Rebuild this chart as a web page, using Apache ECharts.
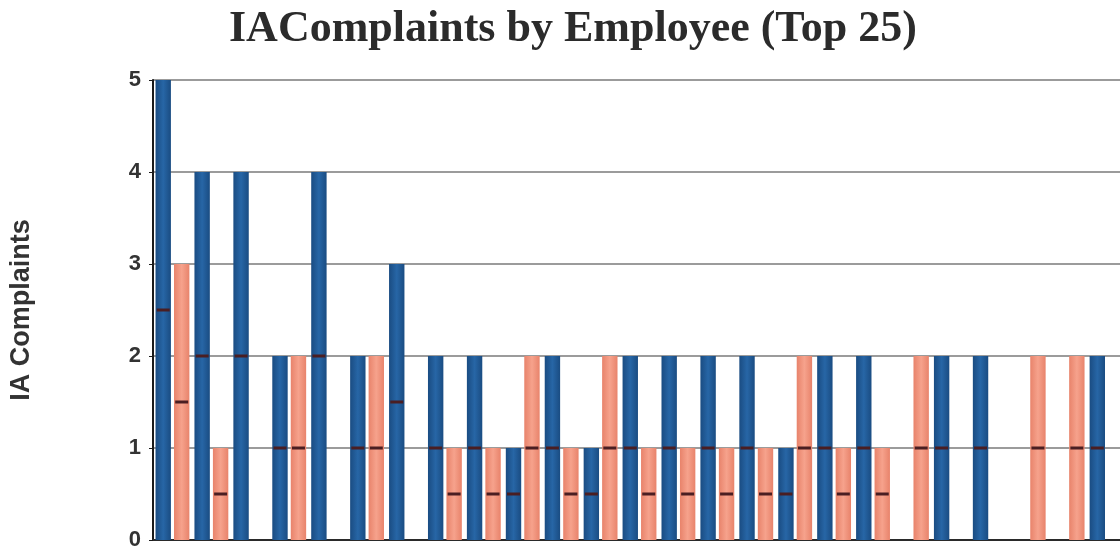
<!DOCTYPE html>
<html>
<head>
<meta charset="utf-8">
<title>IAComplaints by Employee (Top 25)</title>
<script src="https://cdn.jsdelivr.net/npm/echarts@6.0.0/dist/echarts.min.js"></script>
<style>
  html, body { margin: 0; padding: 0; background: #fff; overflow: hidden; }
  /* the original plot runs a few pixels past the right edge of the picture */
  #chart { width: 1130px; height: 551px; }
</style>
</head>
<body>
<div id="chart"></div>
<script>
// 25 employees, ranked by total complaints (names are not shown in the picture)
const employees = Array.from({ length: 25 }, (_, i) => 'Employee ' + (i + 1))
// blue bars
const blueValues = [5, 4, 4, 2, 4, 2, 3, 2, 2, 1, 2, 1, 2, 2, 2, 2, 1, 2, 2, 0, 2, 2, 0, 0, 2]
// salmon bars
const salmonValues = [3, 1, 0, 2, 0, 2, 0, 1, 1, 2, 1, 2, 1, 1, 1, 1, 2, 1, 1, 2, 0, 0, 2, 2, 0]
const yTicks = [0, 1, 2, 3, 4, 5]

// cylinder-ish shading: darker edges, lighter middle
function shade(edge, mid) {
  return new echarts.graphic.LinearGradient(0, 0, 1, 0, [
    { offset: 0, color: edge },
    { offset: 0.5, color: mid },
    { offset: 1, color: edge },
  ])
}

// small dark marker drawn in the middle of each non-zero bar
const midMark = {
  show: true,
  position: 'inside',
  formatter: (p) => (p.value > 0 ? '{m| }' : ''),
  rich: { m: { width: 13, height: 3, fontSize: 1, backgroundColor: '#4a1e22' } },
}

const chart = echarts.init(document.getElementById('chart'), null, { renderer: 'canvas' })
chart.setOption({
  backgroundColor: '#fff',
  animation: false,
  title: {
    text: 'IAComplaints by Employee (Top 25)',
    left: 224,
    top: 3,
    textStyle: { fontFamily: 'Liberation Serif', fontWeight: 'bold', fontSize: 44, color: '#2b2b2b' },
  },
  grid: { left: 152, top: 80, bottom: 10, right: 4, containLabel: false },
  xAxis: {
    type: 'category',
    data: employees,
    axisLine: { lineStyle: { color: '#2a2a2a', width: 2 } },
    axisTick: { show: false },
    axisLabel: { show: false },
  },
  yAxis: {
    type: 'value',
    min: yTicks[0],
    max: yTicks[yTicks.length - 1],
    interval: 1,
    name: 'IA Complaints',
    nameLocation: 'middle',
    nameGap: 118,
    nameTextStyle: { fontFamily: 'Liberation Sans', fontWeight: 'bold', fontSize: 27, color: '#333' },
    axisLine: { show: true, lineStyle: { color: '#1a1a1a', width: 2 } },
    axisTick: { show: true, inside: false, length: 4, lineStyle: { color: '#1a1a1a' } },
    axisLabel: { margin: 12, fontFamily: 'Liberation Sans', fontWeight: 'bold', fontSize: 22, color: '#333' },
    splitLine: { lineStyle: { color: '#7a7a7a', width: 1.5 } },
  },
  series: [
    {
      name: 'Blue',
      type: 'bar',
      data: blueValues,
      barGap: '20%',
      barCategoryGap: '13%',
      itemStyle: { color: shade('#1a4c82', '#2766a6') },
      label: midMark,
    },
    {
      name: 'Salmon',
      type: 'bar',
      data: salmonValues,
      itemStyle: { color: shade('#e8836b', '#f6a28c') },
      label: midMark,
    },
  ],
})
</script>
</body>
</html>
